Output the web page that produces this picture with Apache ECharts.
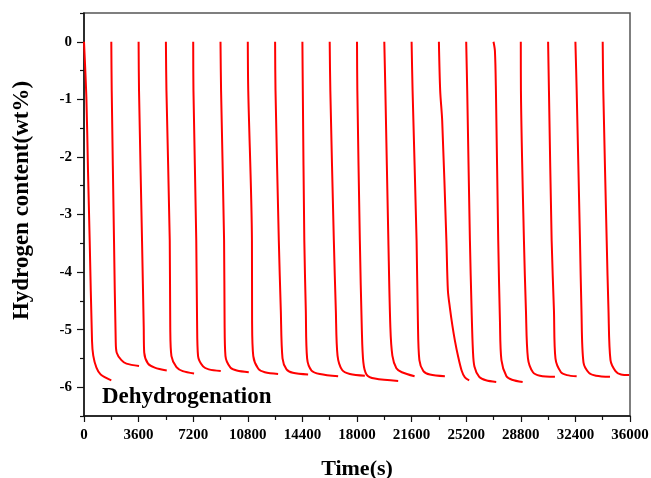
<!DOCTYPE html>
<html>
<head>
<meta charset="utf-8">
<script src="https://cdn.jsdelivr.net/npm/echarts@6/dist/echarts.min.js"></script>
<style>
  html, body { margin: 0; padding: 0; background: #fff; }
  #chart { width: 651px; height: 478px; }
</style>
</head>
<body>
<div id="chart"></div>
<script>
// one dehydrogenation cycle per array: [time (s), hydrogen content (wt%)]
const c01 = [[0, 0], [160, -1], [265, -2.25], [375, -3.45], [530, -5.2], [610, -5.45], [820, -5.66], [1100, -5.78], [1800, -5.88]];
const c02 = [[1800, 0], [1828, -0.85], [1979, -3.45], [2091, -5.19], [2157, -5.4], [2467, -5.53], [2797, -5.59], [3628, -5.63]];
const c03 = [[3600, 0], [3628, -0.85], [3826, -3.45], [3938, -4.96], [3971, -5.4], [4222, -5.59], [4664, -5.66], [5456, -5.71]];
const c04 = [[5400, 0], [5436, -0.85], [5654, -3.45], [5687, -4.96], [5766, -5.46], [6096, -5.65], [6511, -5.72], [7257, -5.76]];
const c05 = [[7200, 0], [7217, -0.85], [7402, -3.45], [7455, -4.84], [7521, -5.46], [7850, -5.64], [8226, -5.69], [9018, -5.72]];
const c06 = [[9000, 0], [9038, -0.85], [9236, -3.45], [9269, -4.84], [9328, -5.46], [9658, -5.66], [10074, -5.71], [10865, -5.74]];
const c07 = [[10800, 0], [10830, -0.85], [11073, -3.45], [11083, -4.84], [11162, -5.46], [11492, -5.68], [11921, -5.74], [12798, -5.77]];
const c08 = [[12600, 0], [12627, -0.85], [12845, -3.45], [12977, -4.67], [13089, -5.5], [13353, -5.69], [13769, -5.75], [14777, -5.78]];
const c09 = [[14400, 0], [14427, -0.85], [14526, -3.45], [14625, -4.67], [14711, -5.5], [15001, -5.71], [15549, -5.77], [16756, -5.81]];
const c10 = [[16200, 0], [16242, -0.85], [16473, -3.45], [16605, -4.67], [16717, -5.45], [17021, -5.7], [17529, -5.77], [18518, -5.8]];
const c11 = [[18000, 0], [18023, -0.85], [18188, -3.45], [18320, -5.01], [18419, -5.57], [18630, -5.78], [19177, -5.85], [20715, -5.89]];
const c12 = [[19800, 0], [19870, -0.85], [20068, -3.45], [20200, -4.96], [20332, -5.45], [20596, -5.67], [20959, -5.74], [21797, -5.81]];
const c13 = [[21600, 0], [21665, -0.85], [21928, -3.45], [22014, -4.84], [22113, -5.53], [22377, -5.72], [22806, -5.78], [23795, -5.81]];
const c14 = [[23400, 0], [23485, -0.85], [23617, -1.37], [23894, -3.45], [23993, -4.32], [24125, -4.62], [24290, -4.93], [24455, -5.19], [24653, -5.45], [24897, -5.71], [25115, -5.83], [25398, -5.88]];
const c15 = [[25200, 0], [25267, -0.85], [25445, -3.45], [25557, -4.67], [25643, -5.36], [25742, -5.64], [26058, -5.82], [26501, -5.88], [27180, -5.91]];
const c16 = [[27000, 0], [27094, -0.16], [27160, -0.85], [27312, -3.45], [27424, -4.84], [27523, -5.53], [27853, -5.81], [28216, -5.87], [28922, -5.91]];
const c17 = [[28800, 0], [28809, -0.85], [29007, -3.45], [29139, -4.67], [29271, -5.5], [29601, -5.74], [30063, -5.8], [31052, -5.82]];
const c18 = [[30600, 0], [30656, -0.85], [30834, -3.45], [30986, -4.67], [31085, -5.5], [31448, -5.74], [31844, -5.79], [32483, -5.81]];
const c19 = [[32400, 0], [32484, -0.85], [32702, -3.45], [32800, -4.67], [32932, -5.57], [33295, -5.75], [33757, -5.8], [34681, -5.82]];
const c20 = [[34200, 0], [34239, -0.85], [34463, -3.45], [34582, -4.67], [34714, -5.53], [35044, -5.72], [35407, -5.78], [35950, -5.79]];
const cycles = [c01, c02, c03, c04, c05, c06, c07, c08, c09, c10, c11, c12, c13, c14, c15, c16, c17, c18, c19, c20];

const yMajorTicks = [-6, -5, -4, -3, -2, -1, 0];
const yMinorTicks = [-6.5, -5.5, -4.5, -3.5, -2.5, -1.5, -0.5, 0.5];

const chart = echarts.init(document.getElementById('chart'));
const serif = '"Liberation Serif", "Times New Roman", serif';

var option = {
  animation: false,
  grid: {
    left: 84,
    right: 21,
    top: 13,
    bottom: 62,
    outerBoundsMode: 'none',
    containLabel: false,
    show: true,
    borderColor: '#555',
    borderWidth: 1.5
  },
  xAxis: {
    type: 'value',
    min: 0,
    max: 36000,
    interval: 3600,
    name: 'Time(s)',
    nameLocation: 'middle',
    nameGap: 42,
    nameTextStyle: { fontFamily: serif, fontWeight: 'bold', fontSize: 22, color: '#000' },
    axisLine: { onZero: false, lineStyle: { color: '#111', width: 1.5 } },
    axisTick: { length: 6, lineStyle: { color: '#111', width: 1.2 } },
    minorTick: { show: true, splitNumber: 2, length: 4, lineStyle: { color: '#111', width: 1.2 } },
    axisLabel: {
      fontFamily: serif, fontWeight: 'bold', fontSize: 15, color: '#000', margin: 12,
      formatter: function (v) { return String(v); }
    },
    splitLine: { show: false }
  },
  yAxis: [{
    type: 'value',
    min: -6.5,
    max: 0.5,
    name: 'Hydrogen content(wt%)',
    nameLocation: 'middle',
    nameRotate: 90,
    nameGap: 50,
    nameTextStyle: { fontFamily: serif, fontWeight: 'bold', fontSize: 23, color: '#000', padding: [0, 0, 0, 28] },
    axisLine: { onZero: false, lineStyle: { color: '#111', width: 1.5 } },
    axisTick: { customValues: yMajorTicks, length: 7, lineStyle: { color: '#111', width: 1.2 } },
    axisLabel: { customValues: yMajorTicks, fontFamily: serif, fontWeight: 'bold', fontSize: 15, color: '#000', margin: 12 },
    splitLine: { show: false }
  }, {
    type: 'value',
    min: -6.5,
    max: 0.5,
    position: 'left',
    axisLine: { show: false, onZero: false },
    axisTick: { customValues: yMinorTicks, length: 4, lineStyle: { color: '#111', width: 1.2 } },
    axisLabel: { show: false },
    splitLine: { show: false }
  }],
  graphic: [{
    type: 'text',
    left: 102,
    top: 386,
    style: {
      text: 'Dehydrogenation',
      font: 'bold 23px ' + serif,
      fill: '#000'
    }
  }],
  series: cycles.map(function (c) {
    return {
      type: 'line',
      data: c,
      yAxisIndex: 0,
      showSymbol: false,
      smooth: 0.3,
      lineStyle: { color: '#ff0000', width: 2 }
    };
  })
};

chart.setOption(option);
</script>
</body>
</html>
